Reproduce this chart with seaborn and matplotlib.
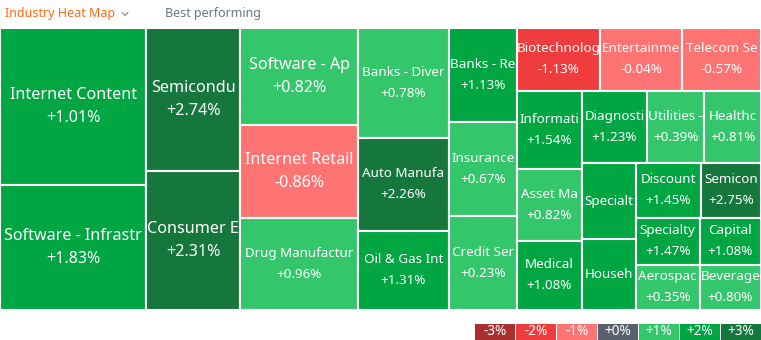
import math
import matplotlib
matplotlib.use("Agg")
import matplotlib.pyplot as plt
from matplotlib.patches import Rectangle
import seaborn as sns

# ---------------- data ----------------
industries = [
    "Internet Content", "Software - Infrastr", "Semicondu", "Consumer E",
    "Software - Ap", "Internet Retail", "Drug Manufactur", "Banks - Diver",
    "Auto Manufa", "Oil & Gas Int", "Banks - Re", "Insurance", "Credit Ser",
    "Biotechnolog", "Entertainme", "Telecom Se", "Informati", "Asset Ma",
    "Medical", "Diagnosti", "Utilities -", "Healthc", "Specialt", "Househ",
    "Discount", "Semicon", "Specialty", "Aerospac", "Capital", "Beverage",
]
weights = [
    22900, 18100, 13450, 12950, 11350, 10880, 10760, 9900, 8370, 7110,
    6400, 6390, 6330, 5300, 5180, 4990, 5000, 4680, 4480, 4610, 4050,
    4040, 4100, 3780, 3570, 3300, 2950, 2880, 2850, 2740,
]
changes = [
    1.01, 1.83, 2.74, 2.31, 0.82, -0.86, 0.96, 0.78, 2.26, 1.31, 1.13,
    0.67, 0.23, -1.13, -0.04, -0.57, 1.54, 0.82, 1.08, 1.23, 0.39, 0.81,
    1.20, 1.15, 1.45, 2.75, 1.47, 0.35, 1.08, 0.80,
]
legend_labels = ["-3%", "-2%", "-1%", "+0%", "+1%", "+2%", "+3%"]
legend_steps = [-3, -2, -1, 0, 1, 2, 3]

# ---------------- style ----------------
sns.set_theme(style="white")
plt.rcParams["font.family"] = ["Noto Sans", "DejaVu Sans"]

palette = sns.color_palette(["#a8302e", "#f03c3c", "#ff7373", "#5a616d",
                             "#33c66b", "#00a642", "#15773c"])
step_color = dict(zip(legend_steps, palette))


def color_for(v):
    if v > 0:
        s = min(3, math.ceil(v))
    elif v < 0:
        s = -min(3, math.ceil(-v))
    else:
        s = 0
    return step_color[s]


# ---------------- squarified layout ----------------
def _layout(sizes, x, y, dx, dy):
    rects = []
    if dx >= dy:
        w = sum(sizes) / dy
        for s in sizes:
            rects.append((x, y, w, s / w))
            y += s / w
    else:
        h = sum(sizes) / dx
        for s in sizes:
            rects.append((x, y, s / h, h))
            x += s / h
    return rects


def _leftover(sizes, x, y, dx, dy):
    if dx >= dy:
        w = sum(sizes) / dy
        return x + w, y, dx - w, dy
    h = sum(sizes) / dx
    return x, y + h, dx, dy - h


def _worst(sizes, x, y, dx, dy):
    return max(max(w / h, h / w) for (_, _, w, h) in _layout(sizes, x, y, dx, dy))


def squarify(sizes, x, y, dx, dy):
    if not sizes:
        return []
    if len(sizes) == 1:
        return _layout(sizes, x, y, dx, dy)
    i = 1
    while i < len(sizes) and _worst(sizes[:i], x, y, dx, dy) >= _worst(sizes[:i + 1], x, y, dx, dy):
        i += 1
    cur, rest = sizes[:i], sizes[i:]
    return _layout(cur, x, y, dx, dy) + squarify(rest, *_leftover(cur, x, y, dx, dy))


W, H = 761, 340
X0, Y0, X1, Y1 = 0, 27.5, 761, 310
total = sum(weights)
areas = [w * (X1 - X0) * (Y1 - Y0) / total for w in weights]
rects = squarify(areas, X0, Y0, X1 - X0, Y1 - Y0)

fig = plt.figure(figsize=(W / 100, H / 100), dpi=100)
ax = fig.add_axes([0, 0, 1, 1])
ax.set_xlim(0, W)
ax.set_ylim(H, 0)
ax.axis("off")

for (x, y, w, h), name, v in zip(rects, industries, changes):
    ax.add_patch(Rectangle((x, y), w, h, facecolor=color_for(v),
                           edgecolor="white", linewidth=1.5))
    cx, cy = x + w / 2, y + h / 2
    big = w * h > 10000
    fs = 11.6 if big else 9.7
    if name == "Drug Manufactur":
        fs = 9.6
    pct = f"{v:+.2f}%"
    if w < 56:
        ax.text(cx, cy, name, color="white", fontsize=fs, ha="center",
                va="center")
    else:
        off = 11.5 if fs > 10 else 10.5
        ax.text(cx, cy - off, name, color="white", fontsize=fs, ha="center",
                va="center")
        ax.text(cx, cy + off, pct, color="white", fontsize=fs, ha="center",
                va="center")

# ---------------- legend ----------------
lx0, lw, lgap, ly, lh = 475, 39.5, 1.5, 323.5, 16
for i, (lab, st) in enumerate(zip(legend_labels, legend_steps)):
    x = lx0 + i * (lw + lgap)
    ax.add_patch(Rectangle((x, ly), lw, lh, facecolor=step_color[st],
                           edgecolor="none"))
    ax.text(x + lw / 2, ly + lh / 2, lab, color="white", fontsize=9.8,
            ha="center", va="center")

# ---------------- header ----------------
ax.text(5, 14, "Industry Heat Map", color="#ff6a13", fontsize=9.0,
        ha="left", va="center")
ax.plot([122, 125, 128], [12.5, 15.5, 12.5], color="#8a8f99", lw=0.9)
ax.text(165, 14, "Best performing", color="#6b7384", fontsize=9.0,
        ha="left", va="center")

fig.savefig("out.png", dpi=100)
